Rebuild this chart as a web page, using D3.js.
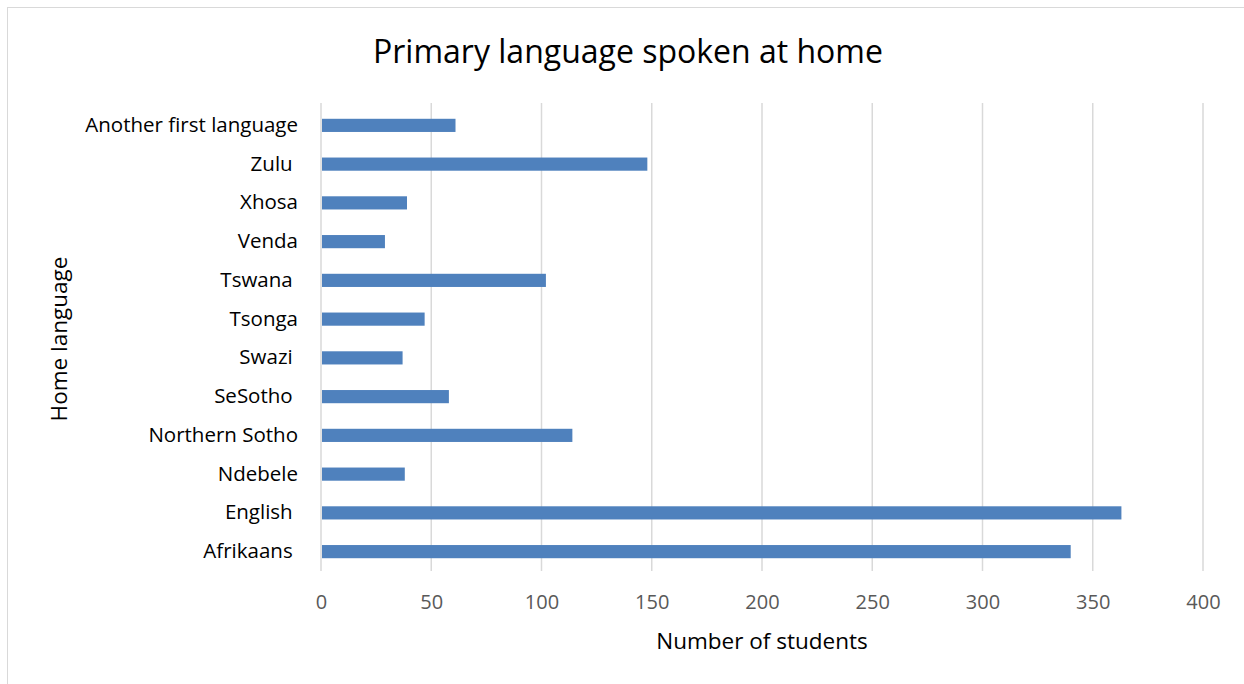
<!DOCTYPE html>
<html>
<head>
<meta charset="utf-8">
<script src="https://cdn.jsdelivr.net/npm/d3@7"></script>
<style>
  html, body { margin: 0; padding: 0; background: #fff; }
  svg { display: block; font-family: "Open Sans", Lato, sans-serif; }
  text { white-space: pre; }
</style>
</head>
<body>
<svg id="chart" width="1244" height="684"></svg>
<script>
// Home language categories, listed bottom to top as drawn
const languages = ["Afrikaans ", "English ", "Ndebele", "Northern Sotho", "SeSotho ", "Swazi ",
                   "Tsonga", "Tswana ", "Venda", "Xhosa", "Zulu ", "Another first language"];
const students = [340, 363, 38, 114, 58, 37, 47, 102, 29, 39, 148, 61];
const xTicks = [0, 50, 100, 150, 200, 250, 300, 350, 400];

const FONT = "'Open Sans', Lato, sans-serif";
const svg = d3.select("#chart");

// Chart area border
svg.append("rect")
  .attr("x", 7.5).attr("y", 7.5)
  .attr("width", 1260).attr("height", 700)
  .attr("fill", "#fff").attr("stroke", "#d9d9d9").attr("stroke-width", 1);

const x = d3.scaleLinear().domain([0, 400]).range([321, 1203]);
const y = d3.scaleBand()
  .domain(languages.slice().reverse())
  .range([106, 571])
  .paddingInner(0.66).paddingOuter(0.33);

// Vertical gridlines
svg.append("g")
  .selectAll("line")
  .data(xTicks)
  .join("line")
  .attr("x1", d => x(d)).attr("x2", d => x(d))
  .attr("y1", 103).attr("y2", 571)
  .attr("stroke", "#d9d9d9").attr("stroke-width", 1.5);

// Bars
svg.append("g")
  .selectAll("rect")
  .data(languages.map((l, i) => ({ l, v: students[i] })))
  .join("rect")
  .attr("x", x(0) + 1)
  .attr("y", d => y(d.l))
  .attr("width", d => x(d.v) - x(0) - 1)
  .attr("height", y.bandwidth())
  .attr("fill", "#4f81bd");

// X axis tick labels
const xAxis = svg.append("g")
  .attr("transform", "translate(0,571)")
  .call(d3.axisBottom(x).tickValues(xTicks).tickSize(0).tickPadding(24));
xAxis.select(".domain").remove();
xAxis.selectAll("text")
  .attr("font-family", FONT)
  .attr("font-size", 20).attr("fill", "#595959");

// Y axis category labels
const yAxis = svg.append("g")
  .attr("transform", "translate(298,0)")
  .call(d3.axisLeft(y).tickSize(0).tickPadding(0));
yAxis.select(".domain").remove();
yAxis.selectAll("text")
  .attr("font-family", FONT)
  .attr("font-size", 20.5).attr("fill", "#000");

// Title
svg.append("text")
  .attr("x", 628).attr("y", 63)
  .attr("text-anchor", "middle")
  .attr("font-family", FONT)
  .attr("font-size", 32).attr("fill", "#000")
  .text("Primary language spoken at home");

// Axis titles
svg.append("text")
  .attr("x", 762).attr("y", 649)
  .attr("text-anchor", "middle")
  .attr("font-family", FONT)
  .attr("font-size", 22.5).attr("fill", "#000")
  .text("Number of students");

svg.append("text")
  .attr("transform", "translate(67,339) rotate(-90)")
  .attr("text-anchor", "middle")
  .attr("font-family", FONT)
  .attr("font-size", 22.5).attr("fill", "#000")
  .text("Home language");
</script>
</body>
</html>
